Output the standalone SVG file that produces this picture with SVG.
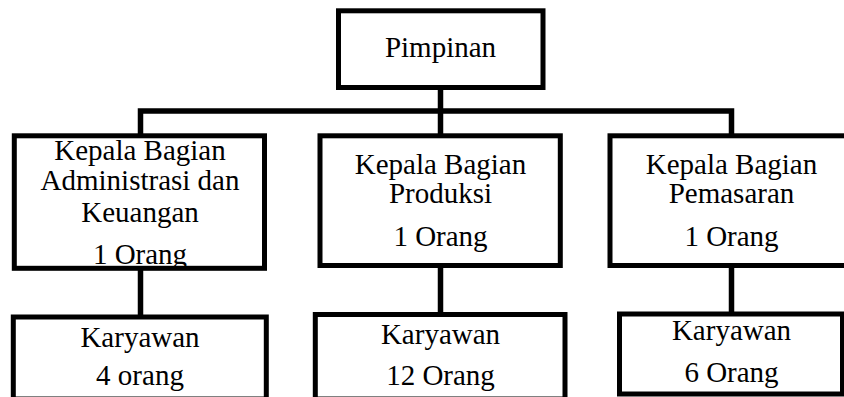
<svg xmlns="http://www.w3.org/2000/svg" width="844" height="397" viewBox="0 0 844 397">
<style>
.box{fill:#fff;stroke:#000;stroke-width:5;stroke-linejoin:miter}
.ln{fill:none;stroke:#000;stroke-width:5.5;stroke-linecap:butt;stroke-linejoin:miter}
text{font-family:"Liberation Serif","Times New Roman",serif;font-size:29px;fill:#000;text-anchor:middle}
</style>
<rect width="844" height="397" fill="#fff"/>
<g id="connectors">
<path class="ln" d="M140.5,136 V111 H731.5 V136"/>
<path class="ln" d="M440.5,87 V136"/>
<path class="ln" d="M140.5,268 V317"/>
<path class="ln" d="M440.5,265 V315"/>
<path class="ln" d="M731.5,265 V314"/>
</g>
<g id="pimpinan">
<rect class="box" x="338.5" y="10.8" width="204.5" height="76.7"/>
<text x="440.5" y="57">Pimpinan</text>
</g>
<g id="kabag-admin">
<rect class="box" x="14.3" y="135.8" width="250.2" height="132.5"/>
<text x="140" y="159.5">Kepala Bagian</text>
<text x="140" y="189.5">Administrasi dan</text>
<text x="140" y="221.5">Keuangan</text>
<text x="140" y="263.5">1 Orang</text>
</g>
<g id="kabag-produksi">
<rect class="box" x="320" y="135.8" width="240.3" height="129.7"/>
<text x="440.5" y="173.5">Kepala Bagian</text>
<text x="440.5" y="203">Produksi</text>
<text x="440.5" y="245.5">1 Orang</text>
</g>
<g id="kabag-pemasaran">
<rect class="box" x="610" y="135.8" width="240" height="129.7"/>
<text x="731.5" y="173.5">Kepala Bagian</text>
<text x="731.5" y="203">Pemasaran</text>
<text x="731.5" y="245.5">1 Orang</text>
</g>
<g id="karyawan-admin">
<rect class="box" x="13.3" y="317" width="253" height="82"/>
<text x="140" y="346.5">Karyawan</text>
<text x="140" y="385">4 orang</text>
</g>
<g id="karyawan-produksi">
<rect class="box" x="315.3" y="314.5" width="249.7" height="84.5"/>
<text x="440.5" y="343.5">Karyawan</text>
<text x="440.5" y="385">12 Orang</text>
</g>
<g id="karyawan-pemasaran">
<rect class="box" x="619.5" y="314" width="223" height="80"/>
<text x="731.5" y="340">Karyawan</text>
<text x="731.5" y="382">6 Orang</text>
</g>
</svg>
